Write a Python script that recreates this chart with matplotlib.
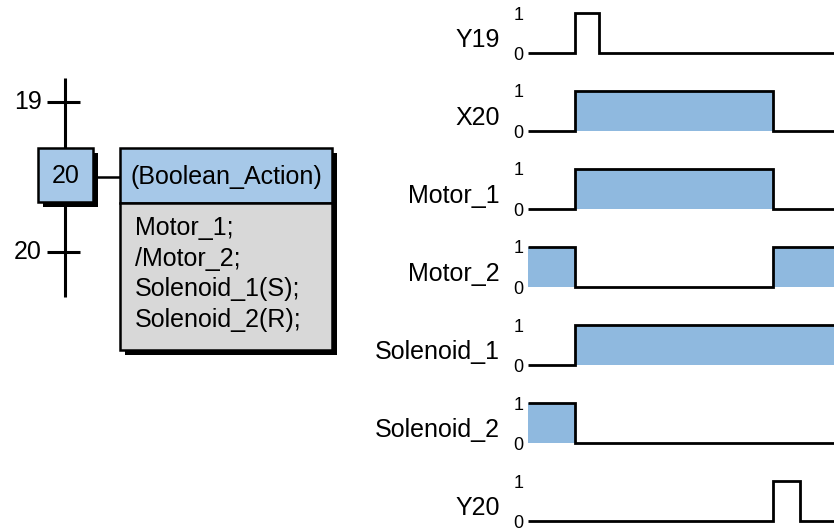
import matplotlib
matplotlib.use('Agg')
import matplotlib.pyplot as plt
from matplotlib.patches import Rectangle

plt.rcParams['font.family'] = ['Liberation Sans', 'DejaVu Sans']

# --- data ---
signal_names = ['Y19', 'X20', 'Motor_1', 'Motor_2', 'Solenoid_1', 'Solenoid_2', 'Y20']
times = [0, 2, 3, 10.4, 11.55, 13]
levels = {
    'Y19':        [0, 1, 0, 0, 0, 0],
    'X20':        [0, 1, 1, 0, 0, 0],
    'Motor_1':    [0, 1, 1, 0, 0, 0],
    'Motor_2':    [1, 0, 0, 1, 1, 1],
    'Solenoid_1': [0, 1, 1, 1, 1, 1],
    'Solenoid_2': [1, 0, 0, 0, 0, 0],
    'Y20':        [0, 0, 0, 1, 0, 0],
}
filled = ['X20', 'Motor_1', 'Motor_2', 'Solenoid_1', 'Solenoid_2']

prev_transition = '19'
step_number = '20'
next_transition = '20'
action_qualifier = '(Boolean_Action)'
action_lines = ['Motor_1;', '/Motor_2;', 'Solenoid_1(S);', 'Solenoid_2(R);']

# --- style ---
W, H = 834, 531
BLUE = '#8fb9df'
HEAD_BLUE = '#a6c8e8'
GRAY = '#d8d8d8'
FS = 18

fig = plt.figure(figsize=(W / 100, H / 100), dpi=100)

# left part: SFC step with action block, laid out in pixel units
ax0 = fig.add_axes([0, 0, 1, 1])
ax0.set_xlim(0, W)
ax0.set_ylim(H, 0)
ax0.axis('off')

lw_sfc = 2.2
ax0.plot([65, 65], [78, 297], color='black', lw=lw_sfc, solid_capstyle='butt', zorder=1)
ax0.plot([47, 80], [102, 102], color='black', lw=lw_sfc, solid_capstyle='butt', zorder=1)
ax0.plot([47, 80], [252, 252], color='black', lw=lw_sfc, solid_capstyle='butt', zorder=1)
ax0.text(42, 102, prev_transition, fontsize=FS, ha='right', va='center')
ax0.text(42, 252, next_transition, fontsize=FS, ha='right', va='center')

# step box with shadow
ax0.add_patch(Rectangle((43, 153), 55, 54, facecolor='black', edgecolor='none', zorder=2))
ax0.add_patch(Rectangle((38, 148), 55, 54, facecolor=HEAD_BLUE, edgecolor='black', lw=1.8, zorder=3))
ax0.text(65.5, 176, step_number, fontsize=FS, ha='center', va='center', zorder=4)

# link to action block
ax0.plot([93, 120], [177, 177], color='black', lw=1.8, solid_capstyle='butt', zorder=1)

# action block with shadow
ax0.add_patch(Rectangle((125, 153), 212, 202, facecolor='black', edgecolor='none', zorder=2))
ax0.add_patch(Rectangle((120, 148), 212, 55, facecolor=HEAD_BLUE, edgecolor='black', lw=1.8, zorder=3))
ax0.add_patch(Rectangle((120, 203), 212, 147, facecolor=GRAY, edgecolor='black', lw=1.8, zorder=3))
ax0.text(226, 177, action_qualifier, fontsize=FS, ha='center', va='center', zorder=4)
for i, line in enumerate(action_lines):
    ax0.text(135, 235 + 30.7 * i, line, fontsize=FS, ha='left', va='baseline', zorder=4)

# right part: timing diagram, one small axes per signal
left_px, right_px = 528, 834
for i, name in enumerate(signal_names):
    low = 53 + 78 * i
    bottom = 1 - (low + 4) / H
    ax = fig.add_axes([left_px / W, bottom, (right_px - left_px) / W, 48 / H])
    ax.set_xlim(times[0], times[-1])
    ax.set_ylim(-0.1, 1.1)
    ax.patch.set_alpha(0)
    for s in ax.spines.values():
        s.set_visible(False)
    ax.set_xticks([])
    ax.set_yticks([0, 1])
    ax.set_yticklabels(['0', '1'])
    ax.tick_params(axis='y', length=0, pad=3.4, labelsize=13)
    v = levels[name]
    if name in filled:
        ax.fill_between(times, v, step='post', color=BLUE, lw=0, zorder=1)
    ax.step(times, v, where='post', color='black', lw=2.0, clip_on=False,
            solid_joinstyle='miter', solid_capstyle='butt', zorder=2)
    ax.text(-0.0915, 0.21, name, transform=ax.transAxes, fontsize=FS,
            ha='right', va='baseline')

fig.savefig('out.png', dpi=100)
